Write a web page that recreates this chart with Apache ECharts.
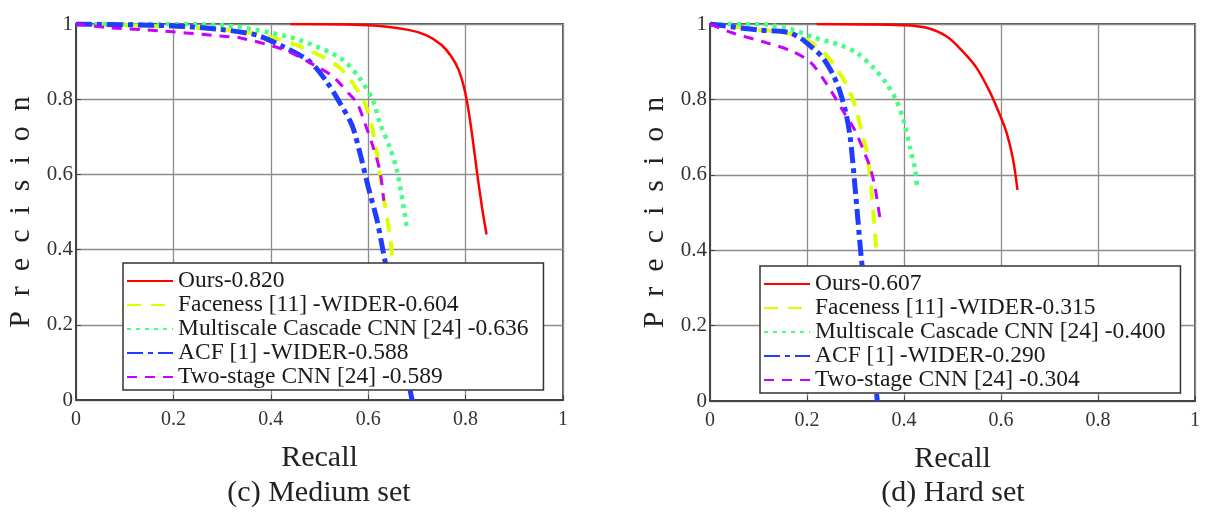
<!DOCTYPE html>
<html>
<head>
<meta charset="utf-8">
<script src="https://cdn.jsdelivr.net/npm/echarts@6/dist/echarts.min.js"></script>
<style>
html,body{margin:0;padding:0;background:#fff;}
#chart{width:1206px;height:512px;}
</style>
</head>
<body>
<div id="chart"></div>
<script>
// ---- Data (recall, precision) ----
const xTicks = [0, 0.2, 0.4, 0.6, 0.8, 1];
const yTicks = [0, 0.2, 0.4, 0.6, 0.8, 1];

const medNames = ['Ours-0.820', 'Faceness [11] -WIDER-0.604', 'Multiscale Cascade CNN [24] -0.636', 'ACF [1] -WIDER-0.588', 'Two-stage CNN [24] -0.589'];
const hardNames = ['Ours-0.607', 'Faceness [11] -WIDER-0.315', 'Multiscale Cascade CNN [24] -0.400', 'ACF [1] -WIDER-0.290', 'Two-stage CNN [24] -0.304'];

const medOurs = [[0.44,1],[0.6,0.997],[0.68,0.985],[0.72,0.97],[0.75,0.945],[0.77,0.915],[0.785,0.88],[0.797,0.83],[0.806,0.77],[0.815,0.69],[0.824,0.6],[0.834,0.51],[0.843,0.44]];
const medFaceness = [[0,1],[0.15,0.995],[0.3,0.985],[0.4,0.965],[0.47,0.935],[0.53,0.895],[0.556,0.864],[0.593,0.79],[0.612,0.7],[0.628,0.567],[0.645,0.434],[0.65,0.37]];
const medMultiscale = [[0,1],[0.2,1],[0.316,0.995],[0.395,0.978],[0.46,0.957],[0.542,0.91],[0.58,0.86],[0.61,0.795],[0.624,0.736],[0.645,0.67],[0.659,0.61],[0.676,0.487],[0.68,0.45]];
const medACF = [[0,1],[0.2,0.995],[0.3,0.985],[0.372,0.97],[0.425,0.94],[0.48,0.9],[0.515,0.846],[0.542,0.79],[0.567,0.73],[0.583,0.657],[0.6,0.567],[0.618,0.479],[0.63,0.4],[0.66,0.2],[0.69,0]];
const medTwoStage = [[0,1],[0.07,0.99],[0.17,0.982],[0.28,0.97],[0.34,0.962],[0.43,0.93],[0.49,0.89],[0.528,0.86],[0.56,0.815],[0.577,0.79],[0.593,0.737],[0.61,0.673],[0.624,0.61],[0.632,0.53]];

const hardOurs = [[0.22,1],[0.4,0.997],[0.447,0.99],[0.489,0.966],[0.522,0.926],[0.55,0.883],[0.577,0.82],[0.598,0.758],[0.612,0.71],[0.625,0.64],[0.634,0.56]];
const hardFaceness = [[0,1],[0.1,0.985],[0.18,0.97],[0.23,0.93],[0.262,0.88],[0.285,0.83],[0.303,0.767],[0.315,0.7],[0.324,0.658],[0.334,0.541],[0.34,0.45],[0.344,0.38]];
const hardMultiscale = [[0,1],[0.1,1],[0.17,0.985],[0.212,0.965],[0.268,0.944],[0.303,0.923],[0.336,0.885],[0.365,0.84],[0.385,0.795],[0.4,0.74],[0.412,0.674],[0.423,0.613],[0.427,0.565]];
const hardACF = [[0,1],[0.1,0.984],[0.16,0.978],[0.186,0.963],[0.212,0.936],[0.233,0.91],[0.254,0.865],[0.268,0.82],[0.28,0.765],[0.289,0.7],[0.299,0.568],[0.305,0.48],[0.313,0.366],[0.33,0.18],[0.345,0]];
const hardTwoStage = [[0,1],[0.047,0.976],[0.117,0.95],[0.165,0.93],[0.206,0.9],[0.241,0.84],[0.274,0.77],[0.298,0.72],[0.318,0.66],[0.33,0.62],[0.34,0.568],[0.35,0.488]];

const subTitles = ['(c) Medium set', '(d) Hard set'];

// ---- Styles ----
const FONT = "'Liberation Serif','Times New Roman',serif";
const styles = [
  {color:'#ff0000', width:2.5, type:'solid'},
  {color:'#dcff00', width:4, type:[14,10]},
  {color:'#45ff85', width:4.5, type:[4,5]},
  {color:'#1f3cff', width:5, type:[16,5,5,5]},
  {color:'#c800ff', width:3, type:[10,8]}
];

function mkSeries(names, datas, gi){
  return datas.map((d,i)=>({
    type:'line', name:names[i], data:d, xAxisIndex:gi, yAxisIndex:gi,
    symbol:'none', showSymbol:false, smooth:0.3, z:2+i*0.01,
    lineStyle:{color:styles[i].color, width:styles[i].width, type:styles[i].type, cap:'butt'},
    itemStyle:{color:styles[i].color},
    emphasis:{disabled:true}, silent:true
  }));
}

function mkX(gi){
  return {type:'value', gridIndex:gi, min:0, max:1, interval:0.2,
    name:'Recall', nameLocation:'middle', nameGap:43,
    nameTextStyle:{fontFamily:FONT, fontSize:30, color:'#222'},
    axisLine:{show:true, lineStyle:{color:'#444', width:2}},
    axisTick:{show:true, inside:true, length:5, lineStyle:{color:'#444'}},
    axisLabel:{fontFamily:FONT, fontSize:20, color:'#333', margin:10},
    splitLine:{show:true, lineStyle:{color:'#8c8c8c', width:1.3}}};
}
function mkY(gi){
  return {type:'value', gridIndex:gi, min:0, max:1, interval:0.2,
    name:'P  r  e  c  i  s  i  o  n', nameLocation:'middle', nameGap:40, nameRotate:90,
    nameTextStyle:{fontFamily:FONT, fontSize:30, color:'#222'},
    axisLine:{show:true, lineStyle:{color:'#444', width:2}},
    axisTick:{show:true, inside:true, length:5, lineStyle:{color:'#444'}},
    axisLabel:{fontFamily:FONT, fontSize:21, color:'#333', margin:3},
    splitLine:{show:true, lineStyle:{color:'#8c8c8c', width:1.3}}};
}
function mkLegend(names, left, top){
  return {orient:'vertical', left:left, top:top, data:names,
    backgroundColor:'#fff', borderColor:'#333', borderWidth:1.5, borderRadius:0,
    padding:[6,15,1,3], itemGap:0, itemWidth:46, itemHeight:12,
    itemStyle:{opacity:0, borderWidth:0},
    textStyle:{fontFamily:FONT, fontSize:23.5, lineHeight:23, color:'#1a1a1a'},
    selectedMode:false};
}

const chart = echarts.init(document.getElementById('chart'), null, {renderer:'canvas'});
chart.setOption({
  animation:false,
  backgroundColor:'#fff',
  grid:[
    {left:76, top:24, width:487, height:376, show:true, borderColor:'#555', borderWidth:2, backgroundColor:'#fff'},
    {left:710, top:24, width:485, height:377, show:true, borderColor:'#555', borderWidth:2, backgroundColor:'#fff'}
  ],
  xAxis:[mkX(0), mkX(1)],
  yAxis:[mkY(0), mkY(1)],
  legend:[mkLegend(medNames, 123, 263), mkLegend(hardNames, 760, 266)],
  graphic:[
    {type:'text', x:319, y:493, style:{text:subTitles[0], font:'30px '+FONT, fill:'#222', textAlign:'center', textVerticalAlign:'middle'}},
    {type:'text', x:953, y:493, style:{text:subTitles[1], font:'30px '+FONT, fill:'#222', textAlign:'center', textVerticalAlign:'middle'}}
  ],
  series:[].concat(
    mkSeries(medNames, [medOurs, medFaceness, medMultiscale, medACF, medTwoStage], 0),
    mkSeries(hardNames, [hardOurs, hardFaceness, hardMultiscale, hardACF, hardTwoStage], 1)
  )
});
</script>
</body>
</html>
